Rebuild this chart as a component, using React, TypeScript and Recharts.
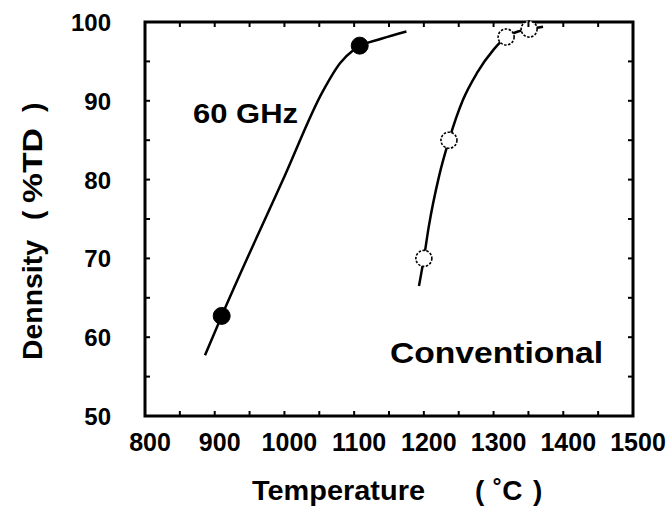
import React from 'react';
import { LineChart, Line, XAxis, YAxis, ReferenceArea } from 'recharts';

// plot frame in pixels (chart is 672x507)
const W = 672;
const H = 507;
const TOP = 22;
const BOTTOM = 416;
const LEFT = 145;
const RIGHT = 633;

const FONT = '"Liberation Sans", Arial, Helvetica, sans-serif';

const xTicks = [800, 850, 900, 950, 1000, 1050, 1100, 1150, 1200, 1250, 1300, 1350, 1400, 1450, 1500];
const yTicks = [50, 55, 60, 65, 70, 75, 80, 85, 90, 95, 100];

// 60 GHz: fitted curve and measured points
const ghzCurve = [
  { x: 886, y: 57.7 },
  { x: 910, y: 62.7 },
  { x: 1000, y: 80.4 },
  { x: 1055, y: 91.2 },
  { x: 1080, y: 94.8 },
  { x: 1100, y: 96.5 },
  { x: 1140, y: 97.9 },
  { x: 1175, y: 98.8 },
];
const ghzPoints = [
  { x: 910, y: 62.7 },
  { x: 1108, y: 97.0 },
];

// Conventional: fitted curve and measured points
const convCurve = [
  { x: 1193, y: 66.5 },
  { x: 1200, y: 70.0 },
  { x: 1207, y: 74.0 },
  { x: 1222, y: 80.5 },
  { x: 1236, y: 85.0 },
  { x: 1256, y: 90.1 },
  { x: 1276, y: 93.5 },
  { x: 1300, y: 96.5 },
  { x: 1318, y: 98.1 },
  { x: 1335, y: 98.8 },
  { x: 1351, y: 99.1 },
  { x: 1371, y: 99.4 },
];
const convPoints = [
  { x: 1200, y: 70.0 },
  { x: 1236, y: 85.0 },
  { x: 1318, y: 98.1 },
  { x: 1351, y: 99.1 },
];

// inward ticks on bottom + top edge, labels every 100
const XTick = (props: any) => {
  const { x, payload } = props;
  return (
    <g>
      <line x1={x} x2={x} y1={BOTTOM} y2={BOTTOM - 5} stroke="#000" strokeWidth={2} />
      <line x1={x} x2={x} y1={TOP} y2={TOP + 5} stroke="#000" strokeWidth={2} />
      {payload.value % 100 === 0 && (
        <text x={x + 5} y={451} textAnchor="middle" fontSize={25} fontWeight="bold" fontFamily={FONT} fill="#000">
          {payload.value}
        </text>
      )}
    </g>
  );
};

// inward ticks on left + right edge, labels every 10
const YTick = (props: any) => {
  const { y, payload } = props;
  return (
    <g>
      <line x1={LEFT} x2={LEFT + 5} y1={y} y2={y} stroke="#000" strokeWidth={2} />
      <line x1={RIGHT} x2={RIGHT - 5} y1={y} y2={y} stroke="#000" strokeWidth={2} />
      {payload.value % 10 === 0 && (
        <text x={111} y={y + 9} textAnchor="end" fontSize={24} fontWeight="bold" fontFamily={FONT} fill="#000">
          {payload.value}
        </text>
      )}
    </g>
  );
};

const txt = { fontWeight: 'bold' as const, fontFamily: FONT, fill: '#000' };

export default function App() {
  return (
    <div style={{ position: 'relative', width: W, height: H, background: '#fff' }}>
      <style>{`body{margin:0;background:#fff}`}</style>
      <LineChart width={W} height={H} margin={{ top: TOP, right: W - RIGHT, bottom: 0, left: 0 }}>
        <XAxis
          xAxisId="b"
          type="number"
          dataKey="x"
          domain={[800, 1500]}
          ticks={xTicks}
          interval={0}
          height={H - BOTTOM}
          tickLine={false}
          axisLine={false}
          tick={XTick}
        />
        <YAxis
          yAxisId="l"
          type="number"
          domain={[50, 100]}
          ticks={yTicks}
          interval={0}
          width={LEFT}
          tickLine={false}
          axisLine={false}
          tick={YTick}
        />
        <ReferenceArea
          xAxisId="b"
          yAxisId="l"
          x1={800}
          x2={1500}
          y1={50}
          y2={100}
          fill="none"
          fillOpacity={0}
          stroke="#000"
          strokeWidth={3}
          strokeOpacity={1}
          ifOverflow="visible"
        />
        <Line
          xAxisId="b"
          yAxisId="l"
          data={ghzCurve}
          dataKey="y"
          type="monotone"
          stroke="#000"
          strokeWidth={2.5}
          dot={false}
          isAnimationActive={false}
        />
        <Line
          xAxisId="b"
          yAxisId="l"
          data={convCurve}
          dataKey="y"
          type="monotone"
          stroke="#000"
          strokeWidth={2.5}
          dot={false}
          isAnimationActive={false}
        />
        <Line
          xAxisId="b"
          yAxisId="l"
          data={ghzPoints}
          dataKey="y"
          stroke="none"
          dot={{ r: 8.5, fill: '#000', stroke: '#000', strokeWidth: 1 }}
          isAnimationActive={false}
        />
        <Line
          xAxisId="b"
          yAxisId="l"
          data={convPoints}
          dataKey="y"
          stroke="none"
          dot={{ r: 8, fill: '#fff', stroke: '#000', strokeWidth: 1.6, strokeDasharray: '2.5 1.5' }}
          isAnimationActive={false}
        />
      </LineChart>
      <svg width={W} height={H} style={{ position: 'absolute', left: 0, top: 0, pointerEvents: 'none' }}>
        <text x={193} y={123} fontSize={28} textLength={105} lengthAdjust="spacingAndGlyphs" {...txt}>60 GHz</text>
        <text x={390} y={363} fontSize={30} textLength={213} lengthAdjust="spacingAndGlyphs" {...txt}>Conventional</text>
        <text x={252} y={500} fontSize={28} textLength={173} lengthAdjust="spacingAndGlyphs" {...txt}>Temperature</text>
        <text x={475} y={500} fontSize={28} {...txt}>(</text>
        <text x={493} y={500} fontSize={28} {...txt}>˚C</text>
        <text x={533} y={500} fontSize={28} {...txt}>)</text>
        <g transform="translate(42,360) rotate(-90)">
          <text x={0} y={0} fontSize={28} textLength={120} lengthAdjust="spacingAndGlyphs" {...txt}>Dennsity</text>
          <text x={140} y={0} fontSize={28} {...txt}>(</text>
          <text x={157} y={0} fontSize={28} textLength={75} lengthAdjust="spacingAndGlyphs" {...txt}>%TD</text>
          <text x={248} y={0} fontSize={28} {...txt}>)</text>
        </g>
      </svg>
    </div>
  );
}
